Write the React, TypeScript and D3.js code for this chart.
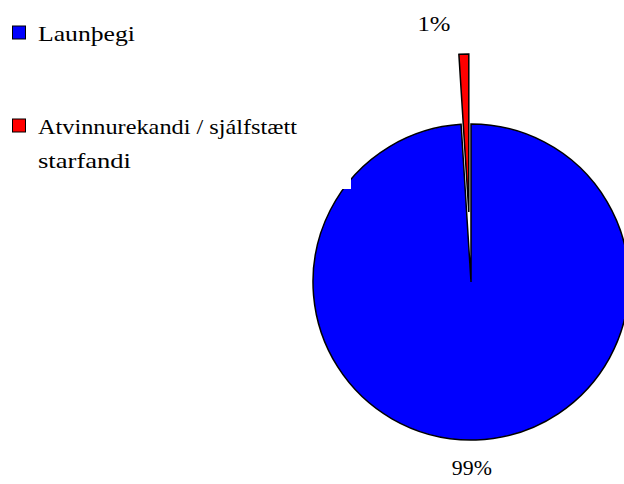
import React from "react";
import * as d3 from "d3";

const categories = ["Launþegi", "Atvinnurekandi / sjálfstætt starfandi"];
const values = [99, 1];
const percentLabels = ["99%", "1%"];
const percentWidths = [40, 33];
const colors = ["#0000FF", "#FF0000"];
const legendLines = [["Launþegi"], ["Atvinnurekandi / sjálfstætt", "starfandi"]];
const legendLineWidths = [[97], [259, 93]];

const W = 624;
const H = 484;
const cx = 471;
const cy = 282;
const R = 158;
const explode = [0, 70];

export default function App() {
  const pie = d3.pie<number>().sort(null).value((d) => d);
  const arcs = pie(values);
  const arcGen = d3.arc<d3.PieArcDatum<number>>().innerRadius(0).outerRadius(R);
  const font = "'Liberation Serif', 'Times New Roman', serif";

  return (
    <svg
      width={W}
      height={H}
      style={{ position: "absolute", left: 0, top: 0, background: "#fff" }}
    >
      <rect x={0} y={0} width={W} height={H} fill="#fff" />
      {arcs.map((a, i) => {
        const mid = (a.startAngle + a.endAngle) / 2;
        const dx = Math.sin(mid) * explode[i];
        const dy = -Math.cos(mid) * explode[i];
        return (
          <path
            key={i}
            d={arcGen(a) || ""}
            transform={`translate(${cx + dx},${cy + dy})`}
            fill={colors[i]}
            stroke="#000"
            strokeWidth={1.5}
            strokeLinejoin="miter"
          />
        );
      })}
      <rect x={341} y={177} width={10} height={12} fill="#fff" />
      {arcs.map((a, i) => {
        const mid = (a.startAngle + a.endAngle) / 2;
        const rr = R + explode[i] + (i === 0 ? 28 : 30);
        const x = cx + Math.sin(mid) * rr + (i === 0 ? -5 : -29);
        const y = cy - Math.cos(mid) * rr + 7;
        return (
          <text
            key={"l" + i}
            x={x - percentWidths[i] / 2}
            y={y}
            fontFamily={font}
            fontSize={22}
            fill="#000"
            textLength={percentWidths[i]}
            lengthAdjust="spacingAndGlyphs"
          >
            {percentLabels[i]}
          </text>
        );
      })}
      {categories.map((c, i) => {
        const top = i === 0 ? 26 : 119;
        return (
          <g key={"lg" + i}>
            <rect
              x={12.5}
              y={top}
              width={13}
              height={13}
              fill={colors[i]}
              stroke="#000"
              strokeWidth={1}
            />
            {legendLines[i].map((ln, j) => (
              <text
                key={j}
                x={38}
                y={top + 15 + j * 34}
                fontFamily={font}
                fontSize={22}
                fill="#000"
                textLength={legendLineWidths[i][j]}
                lengthAdjust="spacingAndGlyphs"
              >
                {ln}
              </text>
            ))}
          </g>
        );
      })}
    </svg>
  );
}
